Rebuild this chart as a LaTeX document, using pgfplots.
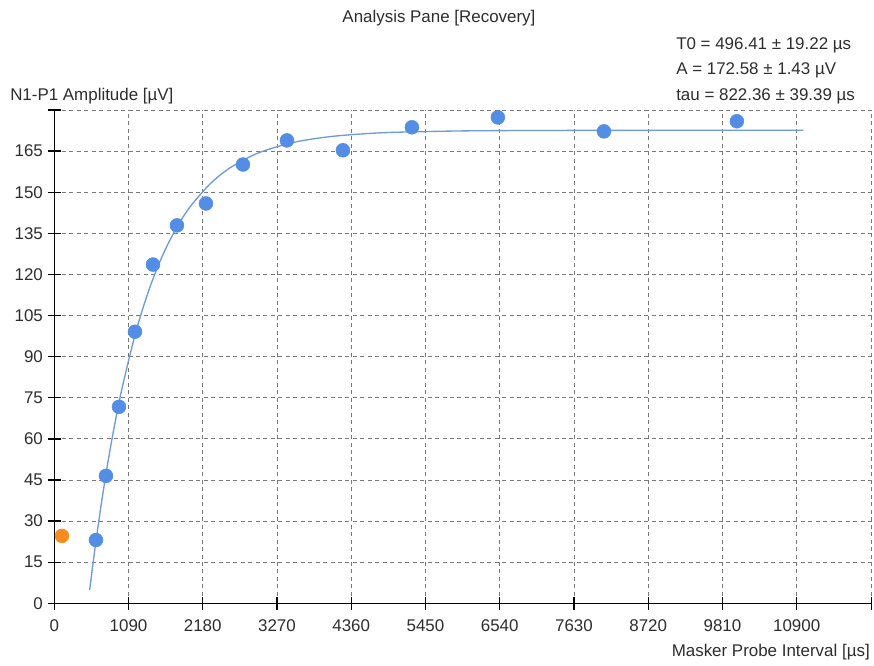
\documentclass[border=0pt]{standalone}
\usepackage{fontspec}
\setmainfont{Liberation Sans}
\usepackage{pgfplots}
\pgfplotsset{compat=1.18}
\definecolor{ptblue}{RGB}{84,141,230}
\definecolor{fitblue}{RGB}{110,155,215}
\definecolor{ptorange}{RGB}{245,140,30}
\definecolor{txt}{RGB}{45,45,45}
\definecolor{gridc}{RGB}{120,120,120}
\newcommand{\fs}{\fontsize{12.7}{15}\selectfont}
\begin{document}
\begin{tikzpicture}
\path[use as bounding box] (-40.7pt,-47pt) rectangle (614.8pt,452.5pt);
\begin{axis}[
  at={(0,0)}, anchor=south west,
  scale only axis, width=613pt, height=370pt,
  xmin=0, xmax=12000, ymin=0, ymax=180,
  scaled ticks=false,
  axis x line=bottom, axis y line=left,
  axis line style={-, black, line width=1pt},
  xtick={0,1090,2180,3270,4360,5450,6540,7630,8720,9810,10900,12000},
  xticklabels={0,1090,2180,3270,4360,5450,6540,7630,8720,9810,10900,{}},
  ytick={0,15,30,45,60,75,90,105,120,135,150,165,180},
  yticklabels={0,15,30,45,60,75,90,105,120,135,150,165,{}},
  tick align=center, major tick length=10pt,
  tick style={black, line width=1pt},
  grid=major,
  major grid style={gridc, dash pattern=on 3pt off 2.6pt, line width=0.6pt},
  /pgf/number format/assume math mode=true,
  ticklabel style={font=\fs, text=txt},
  xticklabel style={yshift=-4pt},
  yticklabel style={xshift=0pt},
  clip=false,
]
\addplot[fitblue, line width=1pt, smooth] coordinates {
(520,4.88) (600,20.43) (700,37.85) (800,53.28) (900,66.93) (1000,79.03)
(1200,99.23) (1400,115.06) (1600,127.48) (1800,137.22) (2000,144.85)
(2300,153.32) (2600,159.21) (3000,164.36) (3500,168.11) (4000,170.14)
(4500,171.25) (5000,171.86) (6000,172.37) (7000,172.52) (8000,172.56)
(9000,172.58) (11000,172.58)};
\addplot[only marks, mark=*, mark size=5.2pt, color=ptblue, mark options={draw=ptblue, fill=ptblue}] coordinates {
(612,23.1) (759,46.5) (950,71.7) (1185,99.1) (1449,123.6) (1801,137.9)
(2227,145.9) (2770,160.1) (3416,168.9) (4238,165.3) (5251,173.7)
(6513,177.3) (8070,172.2) (10022,175.9)};
\addplot[only marks, mark=*, mark size=5.2pt, color=ptorange, mark options={draw=ptorange, fill=ptorange}] coordinates {(113,24.6)};
\end{axis}
\node[font=\fs, text=txt] at (288.5pt,439pt) {Analysis Pane [Recovery]};
\node[font=\fs, text=txt, anchor=west, inner sep=0pt] at (466.3pt,418.7pt) {T0 = 496.41 ± 19.22 µs};
\node[font=\fs, text=txt, anchor=west, inner sep=0pt] at (466.3pt,400pt) {A = 172.58 ± 1.43 µV};
\node[font=\fs, text=txt, anchor=west, inner sep=0pt] at (466.3pt,380.5pt) {tau = 822.36 ± 39.39 µs};
\node[font=\fs, text=txt, anchor=west, inner sep=0pt] at (-33.2pt,380.5pt) {N1-P1 Amplitude [µV]};
\node[font=\fs, text=txt, anchor=east, inner sep=0pt] at (611.8pt,-36.3pt) {Masker Probe Interval [µs]};
\end{tikzpicture}
\end{document}
